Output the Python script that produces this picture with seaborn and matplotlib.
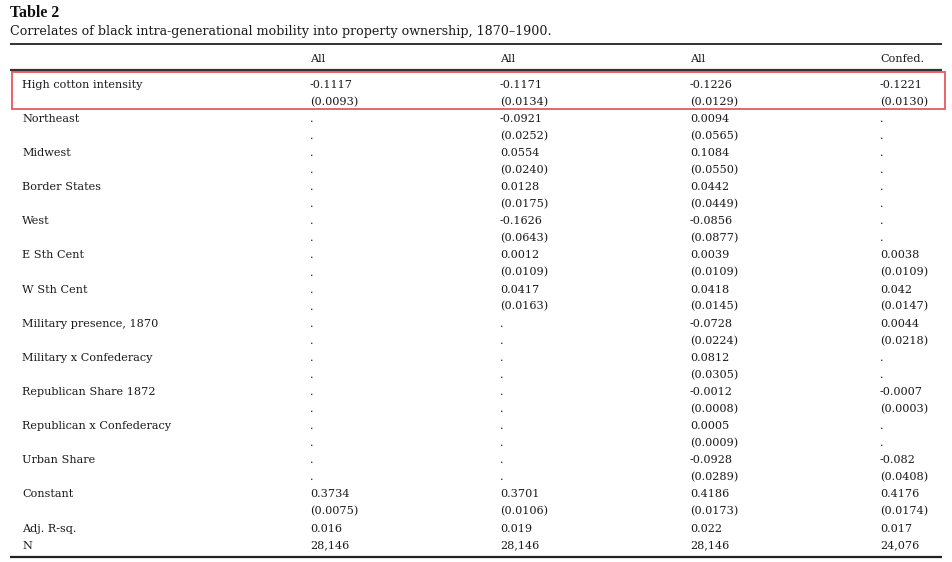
import matplotlib
matplotlib.use("Agg")
import matplotlib.pyplot as plt
import seaborn as sns
from matplotlib.patches import Rectangle

sns.set_theme(style="white")
plt.rcParams['font.family'] = ['DejaVu Serif', 'Liberation Serif']

title = "Table 2"
subtitle = "Correlates of black intra-generational mobility into property ownership, 1870\u20131900."
col_headers = ["All", "All", "All", "Confed."]
row_labels = ["High cotton intensity", "Northeast", "Midwest", "Border States", "West",
              "E Sth Cent", "W Sth Cent", "Military presence, 1870", "Military x Confederacy",
              "Republican Share 1872", "Republican x Confederacy", "Urban Share", "Constant"]
col1_coef = ["-0.1117", ".", ".", ".", ".", ".", ".", ".", ".", ".", ".", ".", "0.3734"]
col1_se = ["(0.0093)", ".", ".", ".", ".", ".", ".", ".", ".", ".", ".", ".", "(0.0075)"]
col2_coef = ["-0.1171", "-0.0921", "0.0554", "0.0128", "-0.1626", "0.0012", "0.0417",
             ".", ".", ".", ".", ".", "0.3701"]
col2_se = ["(0.0134)", "(0.0252)", "(0.0240)", "(0.0175)", "(0.0643)", "(0.0109)", "(0.0163)",
           ".", ".", ".", ".", ".", "(0.0106)"]
col3_coef = ["-0.1226", "0.0094", "0.1084", "0.0442", "-0.0856", "0.0039", "0.0418",
             "-0.0728", "0.0812", "-0.0012", "0.0005", "-0.0928", "0.4186"]
col3_se = ["(0.0129)", "(0.0565)", "(0.0550)", "(0.0449)", "(0.0877)", "(0.0109)", "(0.0145)",
           "(0.0224)", "(0.0305)", "(0.0008)", "(0.0009)", "(0.0289)", "(0.0173)"]
col4_coef = ["-0.1221", ".", ".", ".", ".", "0.0038", "0.042", "0.0044", ".", "-0.0007",
             ".", "-0.082", "0.4176"]
col4_se = ["(0.0130)", ".", ".", ".", ".", "(0.0109)", "(0.0147)", "(0.0218)", ".", "(0.0003)",
           ".", "(0.0408)", "(0.0174)"]
stat_labels = ["Adj. R-sq.", "N"]
stat_values = [["0.016", "0.019", "0.022", "0.017"],
               ["28,146", "28,146", "28,146", "24,076"]]

coefs = [col1_coef, col2_coef, col3_coef, col4_coef]
ses = [col1_se, col2_se, col3_se, col4_se]

W, H = 953, 562
fig = plt.figure(figsize=(W / 100, H / 100), dpi=100)
ax = fig.add_axes([0, 0, 1, 1])
ax.set_xlim(0, W)
ax.set_ylim(H, 0)
ax.axis("off")

fs = 8.1
col_x = [310, 500, 690, 880]
label_x = 22
y0 = 87.8
step = 17.07
txt = "#1a1a1a"

ax.text(10, 17, title, fontsize=11.4, fontweight="bold", va="baseline", ha="left",
        color="#111111", family=["Liberation Serif", "DejaVu Serif"])
ax.text(10, 35, subtitle, fontsize=9.1, va="baseline", ha="left", color=txt)

ax.plot([10, 942], [44, 44], color="#222222", lw=1.3, solid_capstyle="butt")
ax.plot([10, 942], [69.5, 69.5], color="#333333", lw=1.6, solid_capstyle="butt")

for x, h in zip(col_x, col_headers):
    ax.text(x, 61.5, h, fontsize=fs, va="baseline", ha="left", color=txt)

line = 0
for i, lab in enumerate(row_labels):
    yc = y0 + step * line
    ys = y0 + step * (line + 1)
    ax.text(label_x, yc, lab, fontsize=fs, va="baseline", ha="left", color=txt)
    for j in range(4):
        ax.text(col_x[j], yc, coefs[j][i], fontsize=fs, va="baseline", ha="left", color=txt)
        ax.text(col_x[j], ys, ses[j][i], fontsize=fs, va="baseline", ha="left", color=txt)
    line += 2

for k, lab in enumerate(stat_labels):
    yc = y0 + step * line
    ax.text(label_x, yc, lab, fontsize=fs, va="baseline", ha="left", color=txt)
    for j in range(4):
        ax.text(col_x[j], yc, stat_values[k][j], fontsize=fs, va="baseline", ha="left", color=txt)
    line += 1

ax.plot([10, 942], [557, 557], color="#222222", lw=1.6, solid_capstyle="butt")

ax.add_patch(Rectangle((12, 71.5), 933, 37.5, fill=False, edgecolor="#e8646a", lw=1.4))

fig.savefig("out.png", dpi=100)
